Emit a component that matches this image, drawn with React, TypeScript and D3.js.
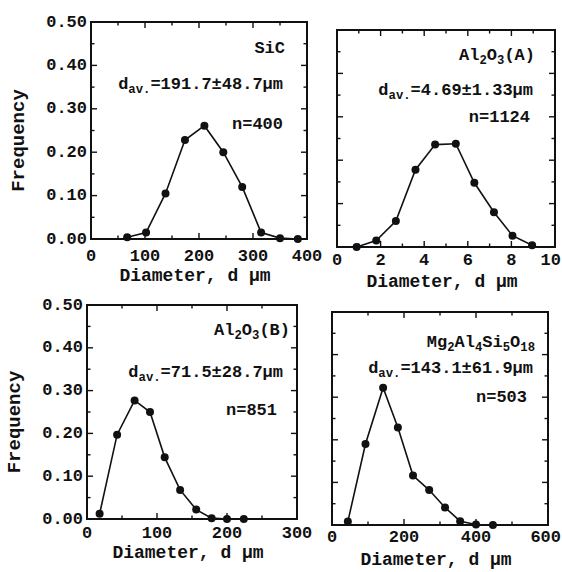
import React from 'react';
import * as d3 from 'd3';

// ---- data ----
const sicX = [67, 102, 138, 174, 210, 245, 280, 315, 350, 383];
const sicY = [0.004, 0.015, 0.105, 0.228, 0.261, 0.2, 0.12, 0.015, 0.002, 0.0];
const alAX = [0.9, 1.8, 2.7, 3.6, 4.5, 5.45, 6.3, 7.2, 8.05, 8.95];
const alAY = [0.0, 0.015, 0.06, 0.178, 0.236, 0.238, 0.148, 0.08, 0.026, 0.004];
const alBX = [18, 43, 68, 90, 111, 133, 156, 178, 200, 224];
const alBY = [0.012, 0.197, 0.277, 0.25, 0.144, 0.068, 0.022, 0.002, 0.0, 0.0];
const mgX = [44, 93, 142, 183, 225, 270, 314, 356, 400, 447];
const mgY = [0.008, 0.19, 0.322, 0.229, 0.116, 0.082, 0.041, 0.009, 0.001, 0.0];

const yTicks = [0, 0.1, 0.2, 0.3, 0.4, 0.5];
const yTickLabels = ['0.00', '0.10', '0.20', '0.30', '0.40', '0.50'];
const sicXTicks = [0, 100, 200, 300, 400];
const alAXTicks = [0, 2, 4, 6, 8, 10];
const alBXTicks = [0, 100, 200, 300];
const mgXTicks = [0, 200, 400, 600];

const xTitle = 'Diameter, d \u03bcm';
const yTitle = 'Frequency';

const FONT = '"Liberation Mono", "Courier New", monospace';
const W = 562;

type Seg = { t: string; sub?: boolean };

type PanelCfg = {
  box: [number, number, number, number]; // x0, x1, yTop, yBottom
  xs: number[];
  ys: number[];
  xTicks: number[];
  xMinorStep: number;
  showY: boolean;
  xLabelDy: number;
  xTitleDy: number;
  title: Seg[];
  dav: Seg[];
  n: string;
  insetY: [number, number, number];
  insetRight: [number, number, number];
};

const davSegs = (v: string): Seg[] => [{ t: 'd' }, { t: 'av.', sub: true }, { t: '=' + v }];

const panels: PanelCfg[] = [
  {
    box: [91, 307, 22, 239], xs: sicX, ys: sicY, xTicks: sicXTicks, xMinorStep: 50, showY: true,
    xLabelDy: 17, xTitleDy: 37,
    title: [{ t: 'SiC' }], dav: davSegs('191.7\u00b148.7\u03bcm'), n: 'n=400',
    insetY: [48, 84, 124], insetRight: [285, 283, 283],
  },
  {
    box: [337, 555, 30, 247], xs: alAX, ys: alAY, xTicks: alAXTicks, xMinorStep: 1, showY: false,
    xLabelDy: 13, xTitleDy: 35,
    title: [{ t: 'Al' }, { t: '2', sub: true }, { t: 'O' }, { t: '3', sub: true }, { t: '(A)' }],
    dav: davSegs('4.69\u00b11.33\u03bcm'), n: 'n=1124',
    insetY: [55, 90, 117], insetRight: [535, 533, 530],
  },
  {
    box: [87, 297, 305, 519], xs: alBX, ys: alBY, xTicks: alBXTicks, xMinorStep: 50, showY: true,
    xLabelDy: 14, xTitleDy: 34,
    title: [{ t: 'Al' }, { t: '2', sub: true }, { t: 'O' }, { t: '3', sub: true }, { t: '(B)' }],
    dav: davSegs('71.5\u00b128.7\u03bcm'), n: 'n=851',
    insetY: [330, 372, 410], insetRight: [290, 283, 277],
  },
  {
    box: [332, 548, 312, 525], xs: mgX, ys: mgY, xTicks: mgXTicks, xMinorStep: 100, showY: false,
    xLabelDy: 12, xTitleDy: 35,
    title: [{ t: 'Mg' }, { t: '2', sub: true }, { t: 'Al' }, { t: '4', sub: true }, { t: 'Si' }, { t: '5', sub: true }, { t: 'O' }, { t: '18', sub: true }],
    dav: davSegs('143.1\u00b161.9\u03bcm'), n: 'n=503',
    insetY: [342, 368, 397], insetRight: [535, 533, 527],
  },
];

function RichText({ segs, x, y, size }: { segs: Seg[]; x: number; y: number; size: number }) {
  return (
    <text x={x} y={y} textAnchor="end" fontFamily={FONT} fontWeight="bold" fontSize={size} dominantBaseline="central" fill="#111">
      {segs.map((s, i) => {
        const prevSub = i > 0 && segs[i - 1].sub;
        let dy = 0;
        if (s.sub && !prevSub) dy = 6;
        if (!s.sub && prevSub) dy = -6;
        return (
          <tspan key={i} dy={dy} fontSize={s.sub ? size * 0.72 : size}>
            {s.t}
          </tspan>
        );
      })}
    </text>
  );
}

function Panel({ cfg }: { cfg: PanelCfg }) {
  const [x0, x1, yT, yB] = cfg.box;
  const xMax = cfg.xTicks[cfg.xTicks.length - 1];
  const xs = d3.scaleLinear().domain([0, xMax]).range([x0, x1]);
  const ys = d3.scaleLinear().domain([0, 0.5]).range([yB, yT]);
  const pts = cfg.xs.map((x, i) => [x, cfg.ys[i]] as [number, number]);
  const line = d3.line<[number, number]>().x(d => xs(d[0])).y(d => ys(d[1]));
  const xMinor = d3.range(0, xMax + 1e-9, cfg.xMinorStep).filter(v => !cfg.xTicks.some(t => Math.abs(t - v) < 1e-9));
  const yMinor = d3.range(0.05, 0.5, 0.1);
  const majL = 6, minL = 3.5;
  const tickStroke = { stroke: '#111', strokeWidth: 1.4 };
  const tickFs = 17;
  return (
    <g>
      {/* ticks */}
      {cfg.xTicks.slice(1, -1).map((t, i) => (
        <g key={'xm' + i}>
          <line x1={xs(t)} x2={xs(t)} y1={yB} y2={yB - majL} {...tickStroke} />
          <line x1={xs(t)} x2={xs(t)} y1={yT} y2={yT + majL} {...tickStroke} />
        </g>
      ))}
      {xMinor.map((t, i) => (
        <g key={'xn' + i}>
          <line x1={xs(t)} x2={xs(t)} y1={yB} y2={yB - minL} {...tickStroke} />
          <line x1={xs(t)} x2={xs(t)} y1={yT} y2={yT + minL} {...tickStroke} />
        </g>
      ))}
      {yTicks.slice(1, -1).map((t, i) => (
        <g key={'ym' + i}>
          <line x1={x0} x2={x0 + majL} y1={ys(t)} y2={ys(t)} {...tickStroke} />
          <line x1={x1} x2={x1 - majL} y1={ys(t)} y2={ys(t)} {...tickStroke} />
        </g>
      ))}
      {yMinor.map((t, i) => (
        <g key={'yn' + i}>
          <line x1={x0} x2={x0 + minL} y1={ys(t)} y2={ys(t)} {...tickStroke} />
          <line x1={x1} x2={x1 - minL} y1={ys(t)} y2={ys(t)} {...tickStroke} />
        </g>
      ))}
      <rect x={x0} y={yT} width={x1 - x0} height={yB - yT} fill="none" stroke="#111" strokeWidth={2} />
      {/* data */}
      <path d={line(pts) || ''} fill="none" stroke="#111" strokeWidth={1.6} />
      {pts.map((p, i) => (
        <circle key={i} cx={xs(p[0])} cy={ys(p[1])} r={4} fill="#111" />
      ))}
      {/* tick labels */}
      {cfg.xTicks.map((t, i) => {
        const s = String(t);
        const half = s.length * tickFs * 0.3;
        const cx = Math.min(xs(t), W - 1 - half);
        return (
          <text key={'xl' + i} x={cx} y={yB + cfg.xLabelDy} textAnchor="middle" dominantBaseline="central"
            fontFamily={FONT} fontWeight="bold" fontSize={tickFs} fill="#111">{s}</text>
        );
      })}
      {cfg.showY && yTicks.map((t, i) => (
        <text key={'yl' + i} x={x0 - 4} y={ys(t)} textAnchor="end" dominantBaseline="central"
          fontFamily={FONT} fontWeight="bold" fontSize={tickFs} fill="#111">{yTickLabels[i]}</text>
      ))}
      {/* titles */}
      <text x={(x0 + x1) / 2 - 4} y={yB + cfg.xTitleDy} textAnchor="middle" dominantBaseline="central"
        fontFamily={FONT} fontWeight="bold" fontSize={18} fill="#111">{xTitle}</text>
      {cfg.showY && (
        <text transform={`translate(${x0 - 72},${(yT + yB) / 2 + 10}) rotate(-90)`} textAnchor="middle" dominantBaseline="central"
          fontFamily={FONT} fontWeight="bold" fontSize={19} fill="#111">{yTitle}</text>
      )}
      {/* inset */}
      <RichText segs={cfg.title} x={cfg.insetRight[0]} y={cfg.insetY[0]} size={17} />
      <RichText segs={cfg.dav} x={cfg.insetRight[1]} y={cfg.insetY[1]} size={17} />
      <RichText segs={[{ t: cfg.n }]} x={cfg.insetRight[2]} y={cfg.insetY[2]} size={17} />
    </g>
  );
}

export default function App() {
  return (
    <svg width={562} height={572} style={{ position: 'absolute', left: 0, top: 0, background: '#fff' }}>
      <rect width={562} height={572} fill="#fff" />
      {panels.map((p, i) => <Panel key={i} cfg={p} />)}
    </svg>
  );
}
